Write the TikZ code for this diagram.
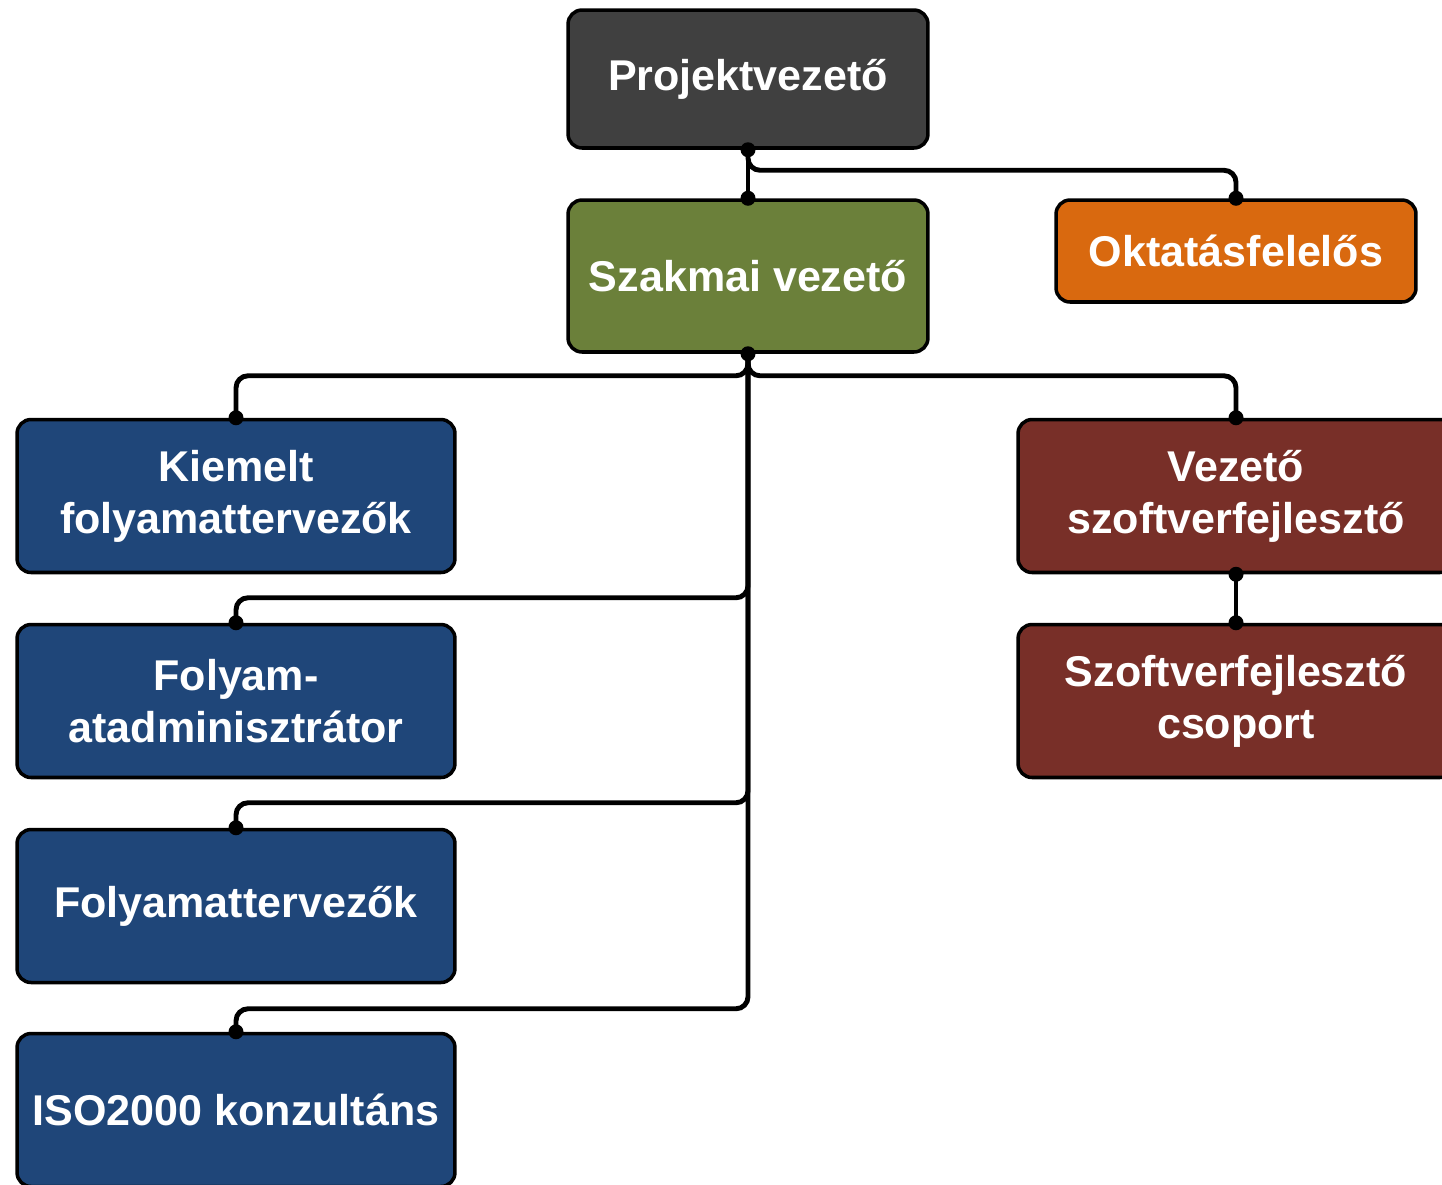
\documentclass[tikz,border=0pt]{standalone}
\usepackage{fontspec}
\setmainfont{Liberation Sans}
\usepackage{tikz}
\usetikzlibrary{positioning, calc}

\definecolor{bossgray}{HTML}{404040}
\definecolor{leadgreen}{HTML}{6B803A}
\definecolor{eduorange}{HTML}{D9690F}
\definecolor{procblue}{HTML}{1F4679}
\definecolor{devred}{HTML}{782F28}

\begin{document}
\begin{tikzpicture}[
    x=0.02cm, y=-0.02cm,
    unit/.style={draw, rectangle, rounded corners=0.28cm, line width=2pt, align=center, text=white, font=\bfseries\fontsize{24.5}{29.6}\selectfont},
    topunit/.style={unit, minimum width=7.2cm},
    procunit/.style={unit, fill=procblue, minimum width=8.76cm, minimum height=3.06cm},
    devunit/.style={unit, fill=devred, minimum width=8.72cm, minimum height=3.06cm},
    link/.style={line width=2.8pt, rounded corners=0.24cm},
    joint/.style={fill=black}
]
    \useasboundingbox (0,0) rectangle (1442,1184);
    \clip (0,0) rectangle (1442,1184);

    % ===============================
    % 1. UNITS
    % ===============================
    \node[topunit, fill=bossgray, minimum height=2.76cm] (pv) at (748, 79) {Projektvezető};
    \node[topunit, fill=leadgreen, minimum height=3.04cm] (szv) at (748, 276) {Szakmai vezető};
    \node[topunit, fill=eduorange, minimum height=2.04cm] (okt) at (1236, 251) {Oktatásfelelős};

    \node[procunit] (kft) at (236, 496) {Kiemelt\\folyamattervezők};
    \node[procunit] (fadm) at (236, 701) {Folyam-\\atadminisztrátor};
    \node[procunit] (ft) at (236, 906) {Folyamattervezők};
    \node[procunit] (iso) at (236, 1110) {ISO2000 konzultáns};

    \node[devunit] (vsz) at (1236, 496) {Vezető\\szoftverfejlesztő};
    \node[devunit] (szcs) at (1236, 701) {Szoftverfejlesztő\\csoport};

    % ===============================
    % 2. LINKS
    % ===============================
    \draw[link] (pv.south) -- (szv.north);
    \draw[link] (pv.south) |- ([yshift=0.56cm]okt.north) -- (okt.north);

    \draw[link] (szv.south) |- ([yshift=0.84cm]kft.north) -- (kft.north);
    \draw[link] (szv.south) |- ([yshift=0.84cm]vsz.north) -- (vsz.north);
    \draw[link] (szv.south) |- ([yshift=0.5cm]fadm.north) -- (fadm.north);
    \draw[link] (szv.south) |- ([yshift=0.5cm]ft.north) -- (ft.north);
    \draw[link] (szv.south) |- ([yshift=0.46cm]iso.north) -- (iso.north);

    \draw[link] (vsz.south) -- (szcs.north);

    % joints at the box edges
    \foreach \p in {pv.south, szv.north, okt.north, szv.south, kft.north, fadm.north, ft.north, iso.north, vsz.north, vsz.south, szcs.north}
        \fill[joint] (\p) circle (0.15cm);

\end{tikzpicture}
\end{document}
